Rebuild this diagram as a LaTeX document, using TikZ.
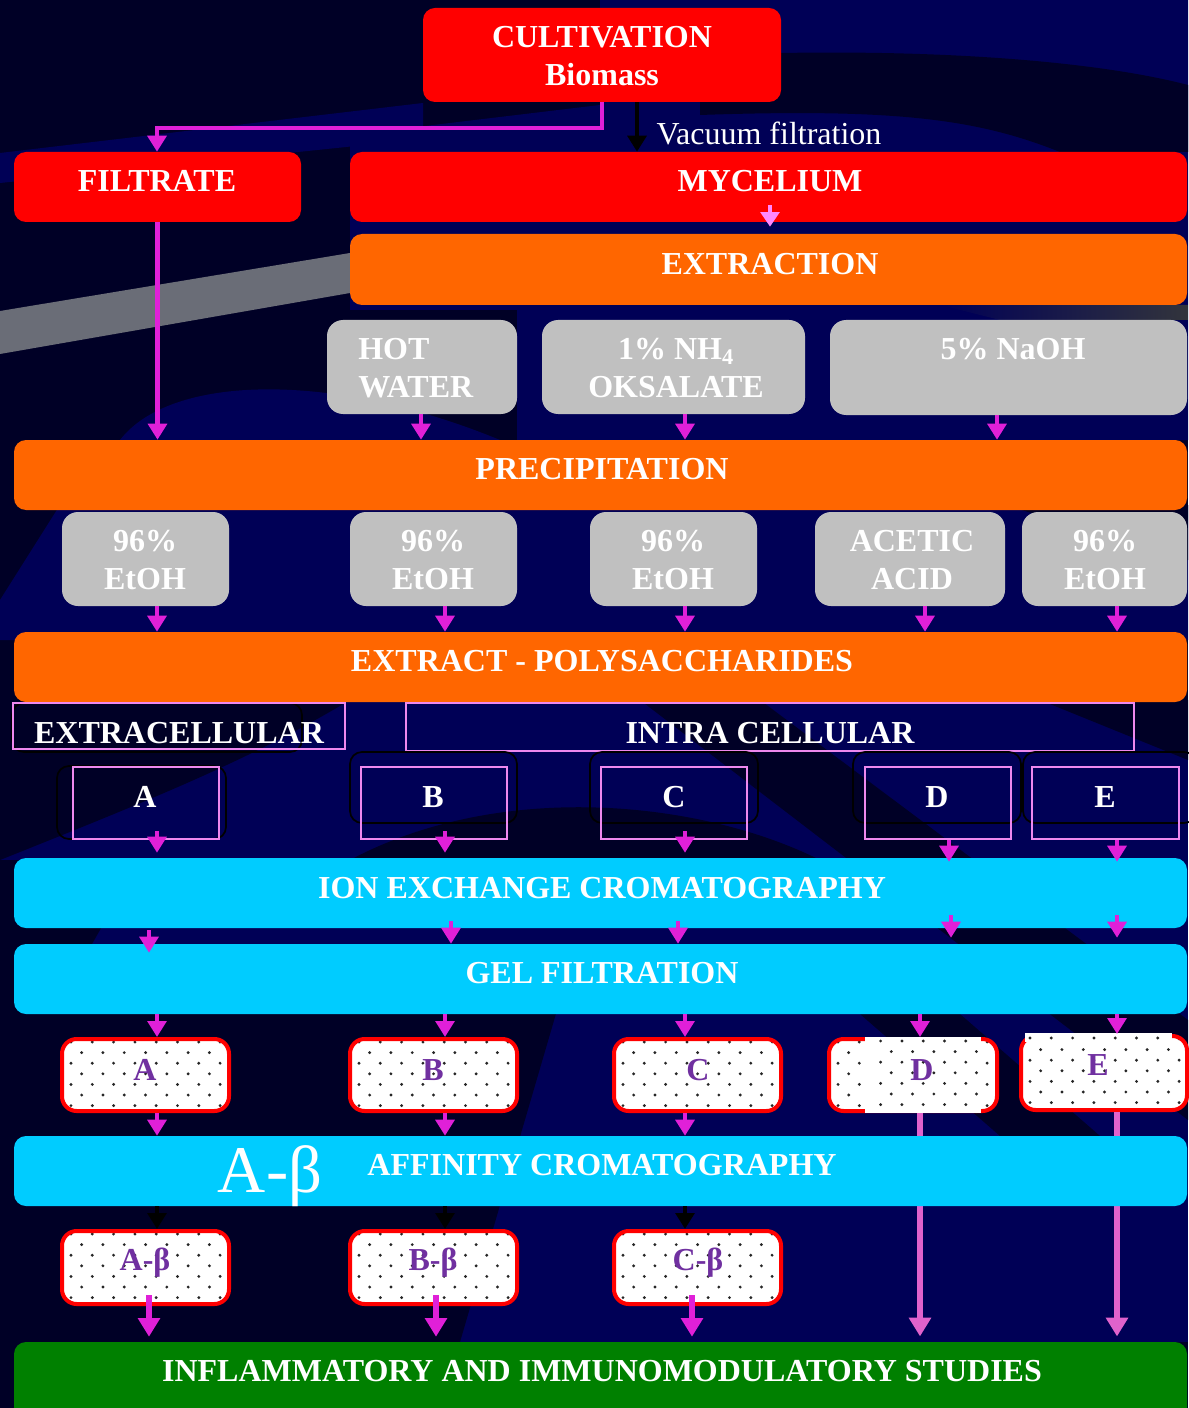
\documentclass[tikz,border=0pt]{standalone}
\usepackage{fontspec}
\setmainfont{Liberation Serif}
\usetikzlibrary{arrows.meta,calc,fit}
\definecolor{bgdark}{HTML}{000026}
\definecolor{bgnavy}{HTML}{000056}
\definecolor{bggray}{HTML}{6A6D77}
\definecolor{bred}{HTML}{FF0000}
\definecolor{borange}{HTML}{FF6600}
\definecolor{bcyan}{HTML}{00CCFF}
\definecolor{bgreen}{HTML}{008000}
\definecolor{bgrey}{HTML}{C0C0C0}
\definecolor{mag}{HTML}{E020D8}
\definecolor{lmag}{HTML}{E062CC}
\definecolor{lpink}{HTML}{FF88FF}
\definecolor{pinkline}{HTML}{EE88EE}
\definecolor{purp}{HTML}{7030A0}
\colorlet{dotc}{black!85}
\tikzset{
 bx/.style={rounded corners=9pt, inner sep=0pt, draw=none},
 redbox/.style={bx, fill=bred},
 orbox/.style={bx, fill=borange},
 cybox/.style={bx, fill=bcyan},
 greybox/.style={bx, fill=bgrey, rounded corners=12pt},
 greenbox/.style={bx, fill=bgreen},
 pinkbox/.style={draw=pinkline, line width=1.6pt, inner sep=0pt},
 shadowbox/.style={draw=black, line width=1.3pt, rounded corners=9pt, inner sep=0pt},
 dotfill/.style 2 args={path picture={
   \foreach \j in {0,...,7}{\foreach \i in {0,...,8}{
     \fill[dotc] ($(path picture bounding box.north west)+({#1+\i*21.3+mod(\j,2)*10.65},{#2+\j*10.6})$) circle[radius=1.2pt];}}}},
 dotbox/.style={draw=bred, line width=3pt, fill=white, rounded corners=11pt, inner sep=0pt, dotfill={9}{3}},
 whitepatch/.style={fill=white, draw=none, inner sep=0pt},
 lbl/.style={text=white, font=\fontsize{24}{29}\selectfont\bfseries, align=center, inner sep=0pt},
 plbl/.style={text=purp, font=\fontsize{24}{29}\selectfont\bfseries, inner sep=0pt},
 marrow/.style={draw=mag, line width=3.5pt, -{Triangle[width=14pt,length=12pt]}},
 karrow/.style={draw=black, line width=3.5pt, -{Triangle[width=14pt,length=12pt]}},
 parrow/.style={draw=lpink, line width=3.5pt, -{Triangle[width=14pt,length=11pt]}},
 barrow/.style={draw=mag, line width=5pt, -{Triangle[width=16pt,length=14pt]}},
 larrow/.style={draw=lmag, line width=4.5pt, -{Triangle[width=16pt,length=14pt]}},
}
\begin{document}
\begin{tikzpicture}[x=0.75pt,y=-0.75pt]
\useasboundingbox (0,0) rectangle (1188,1408);
% ---------- background ----------
\fill[bgdark] (0,0) rectangle (1188,1408);
\fill[bgnavy] (600,0) -- (1188,0) -- (1188,440) -- (517,440) -- (517,310) -- (350,310) -- (350,135) -- (600,105) -- cycle;
\fill[bgdark] (781,53) .. controls (950,50) and (1100,62) .. (1188,85) -- (1188,152) -- (1060,152) .. controls (980,120) and (900,108) .. (700,115) -- (700,100) -- cycle;
\fill[bgnavy] (0,153) -- (423,103) -- (423,139) -- (0,183) -- cycle;
\fill[bggray] (0,311) -- (350,253) -- (350,293) -- (0,354) -- cycle;
\fill[bgnavy] (120,440) .. controls (170,375) and (330,370) .. (500,440) -- cycle;
\shade[left color=bgnavy, right color={rgb,255:red,50;green,52;blue,60}] (940,305) -- (1188,305) -- (1188,320) -- (1000,320) -- cycle;
\fill[bgnavy] (60,505) -- (1188,505) -- (1188,640) -- (0,640) -- (0,600) -- cycle;
\fill[bgdark] (1005,505) -- (1188,505) -- (1188,560) -- cycle;
\fill[bgnavy] (0,700) rectangle (1188,1342);
\fill[bgdark] (0,700) -- (350,700) .. controls (250,760) and (150,800) .. (0,860) -- cycle;
\fill[bgdark] (0,1000) -- (560,1000) -- (460,1342) -- (0,1342) -- cycle;
\fill[bgdark] (0,860) -- (140,860) -- (60,1000) -- (0,1000) -- cycle;
\fill[bgdark] (640,700) -- (760,700) -- (1188,1020) -- (1188,1120) -- cycle;
\fill[bgdark] (860,1014) -- (960,1014) -- (1100,1136) -- (1000,1136) -- cycle;
\fill[bgdark] (1040,700) -- (1188,700) -- (1188,760) -- cycle;
\fill[bgdark] (350,860) .. controls (500,780) and (700,800) .. (820,860) -- cycle;
% ---------- column coordinates ----------
\foreach \c in {149,157,421,436,445,451,637,678,685,692,770,920,925,949,951,997,1117}
  \coordinate (c\c) at (\c,0);
\coordinate (bend) at (157,128);
% ---------- top part ----------
\node[redbox, fit={(423,8)(781,102)}] (cult) {};
\node[lbl] (tcult) at (602,56) {CULTIVATION\\Biomass};
\node[redbox, fit={(14,152)(301,222)}] (filt) {};
\node[lbl] (tfilt) at (157,181) {FILTRATE};
\node[redbox, fit={(350,152)(1187,222)}] (myc) {};
\node[lbl] (tmyc) at (770,181) {MYCELIUM};
\node[text=white, font=\fontsize{24}{29}\selectfont, inner sep=0pt] (tvac) at (769,133) {Vacuum filtration};
\node[orbox, fit={(350,234)(1187,305)}] (ext) {};
\node[lbl] (text) at (770,264) {EXTRACTION};
\node[greybox, fit={(327,320)(517,414)}] (hot) {};
\node[lbl, align=left, anchor=west] (thot) at (358,368) {HOT\\WATER};
\node[greybox, fit={(542,320)(805,414)}] (nh) {};
\node[lbl] (tnh) at (676,368) {1\% NH\textsubscript{4}\\OKSALATE};
\node[greybox, fit={(830,320)(1187,415)}] (naoh) {};
\node[lbl] (tnaoh) at (1013,349) {5\% NaOH};
\node[orbox, fit={(14,440)(1187,510)}] (prec) {};
\node[lbl] (tprec) at (602,469) {PRECIPITATION};
\node[greybox, fit={(62,512)(229,606)}] (g1) {};
\node[lbl] (tg1) at (145,560) {96\%\\EtOH};
\node[greybox, fit={(350,512)(517,606)}] (g2) {};
\node[lbl] (tg2) at (433,560) {96\%\\EtOH};
\node[greybox, fit={(590,512)(757,606)}] (g3) {};
\node[lbl] (tg3) at (673,560) {96\%\\EtOH};
\node[greybox, fit={(815,512)(1005,606)}] (g4) {};
\node[lbl] (tg4) at (912,560) {ACETIC\\ACID};
\node[greybox, fit={(1022,512)(1187,606)}] (g5) {};
\node[lbl] (tg5) at (1105,560) {96\%\\EtOH};
\node[orbox, fit={(14,632)(1187,702)}] (expol) {};
\node[lbl] (texpol) at (602,661) {EXTRACT - POLYSACCHARIDES};
% ---------- extra / intra ----------
\node[shadowbox, fit={(12,703)(302,752)}] (sh0) {};
\node[pinkbox, fit={(13,703)(345,749)}] (extra) {};
\node[lbl] (textra) at (179,733) {EXTRACELLULAR};
\node[pinkbox, fit={(406,703)(1134,751)}] (intra) {};
\node[lbl] (tintra) at (770,733) {INTRA CELLULAR};
\node[shadowbox, fit={(57,766)(226,839)}] (shA) {};
\node[shadowbox, fit={(350,752)(517,823)}] (shB) {};
\node[shadowbox, fit={(590,752)(758,823)}] (shC) {};
\node[shadowbox, fit={(853,752)(1021,823)}] (shD) {};
\node[shadowbox, fit={(1023,752)(1196,823)}] (shE) {};
\node[pinkbox, fit={(73,767)(219,839)}] (pA) {};
\node[lbl] (tpA) at (145,797) {A};
\node[pinkbox, fit={(361,767)(507,839)}] (pB) {};
\node[lbl] (tpB) at (433,797) {B};
\node[pinkbox, fit={(601,767)(747,839)}] (pC) {};
\node[lbl] (tpC) at (674,797) {C};
\node[pinkbox, fit={(865,767)(1011,839)}] (pD) {};
\node[lbl] (tpD) at (937,797) {D};
\node[pinkbox, fit={(1032,767)(1179,839)}] (pE) {};
\node[lbl] (tpE) at (1105,797) {E};
% ---------- chromatography ----------
\node[cybox, fit={(14,858)(1187,928)}] (ion) {};
\node[lbl] (tion) at (602,888) {ION EXCHANGE CROMATOGRAPHY};
\node[cybox, fit={(14,944)(1187,1014)}] (gel) {};
\node[lbl] (tgel) at (602,973) {GEL FILTRATION};
\node[dotbox, fit={(62,1039)(229,1111)}] (dA) {};
\node[dotbox, fit={(350,1039)(517,1111)}] (dB) {};
\node[dotbox, fit={(614,1039)(781,1111)}] (dC) {};
\node[dotbox, fit={(829,1039)(997,1111)}] (dD) {};
\node[dotbox, fit={(1021,1036)(1187,1110)}] (dE) {};
\node[whitepatch, dotfill={15.6}{4}, fit={(865,1037)(981,1113)}] (wD) {};
\node[whitepatch, dotfill={5}{5}, fit={(1025,1033)(1172,1042)}] (wE) {};
\node[plbl] (tdA) at (145,1070) {A};
\node[plbl] (tdB) at (433,1070) {B};
\node[plbl] (tdC) at (698,1070) {C};
\node[plbl] (tdD) at (922,1070) {D};
\node[plbl] (tdE) at (1098,1065) {E};
\node[greenbox, fit={(14,1342)(1187,1420)}] (green) {};
\node[lbl] (tgreen) at (602,1371) {INFLAMMATORY AND IMMUNOMODULATORY STUDIES};
% long D / E arrows behind the affinity bar
\draw[larrow, shorten >=4pt] (dD.south -| c920) -- (c920 |- green.north);
\draw[larrow, shorten >=4pt] (dE.south -| c1117) -- (c1117 |- green.north);
\node[cybox, fit={(14,1136)(1187,1206)}] (aff) {};
\node[text=white, font=\fontsize{50}{60}\selectfont, inner sep=0pt, anchor=base] (tab) at (270,1192) {A-β};
\node[lbl] (taff) at (602,1165) {AFFINITY CROMATOGRAPHY};
\node[dotbox, fit={(62,1231)(229,1304)}] (bA) {};
\node[dotbox, fit={(350,1231)(517,1304)}] (bB) {};
\node[dotbox, fit={(614,1231)(781,1304)}] (bC) {};
\node[plbl] (tbA) at (145,1263) {A-β};
\node[plbl] (tbB) at (433,1263) {B-β};
\node[plbl] (tbC) at (698,1263) {C-β};
% ---------- connectors ----------
\draw[marrow] (cult.south) |- (bend) -- (filt.north -| bend);
\draw[karrow] (cult.south -| c637) -- (myc.north -| c637);
\draw[parrow] ($(myc.south -| c770)+(0,-17)$) -- ($(ext.north -| c770)+(0,-7)$);
\draw[marrow] (filt.south) -- (filt.south |- prec.north);
\draw[marrow] (hot.south -| c421) -- (c421 |- prec.north);
\draw[marrow] (nh.south -| c685) -- (c685 |- prec.north);
\draw[marrow] (naoh.south -| c997) -- (c997 |- prec.north);
\foreach \g/\c in {g1/c157,g2/c445,g3/c685,g4/c925,g5/c1117}
  \draw[marrow] (\g.south -| \c) -- (\c |- expol.north);
\foreach \p/\c in {pA/c157,pB/c445,pC/c685}
  \draw[marrow] ($(\p.south -| \c)+(0,-9)$) -- ($(\c |- ion.north)+(0,-5)$);
\foreach \p/\c in {pD/c949,pE/c1117}
  \draw[marrow] (\p.south -| \c) -- ($(\c |- ion.north)+(0,4)$);
\draw[marrow] ($(ion.south -| c149)+(0,2)$) -- ($(gel.north -| c149)+(0,9)$);
\foreach \c in {c451,c678}
  \draw[marrow] ($(ion.south -| \c)+(0,-7)$) -- (gel.north -| \c);
\foreach \c in {c951,c1117}
  \draw[marrow] ($(ion.south -| \c)+(0,-13)$) -- ($(gel.north -| \c)+(0,-6)$);
\foreach \d/\c in {dA/c157,dB/c445,dC/c685,dD/c920,dE/c1117}
  \draw[marrow] (gel.south -| \c) -- (\c |- \d.north);
\foreach \d/\c in {dA/c157,dB/c445,dC/c685}
  \draw[marrow] (\d.south -| \c) -- (\c |- aff.north);
\foreach \b/\c in {bA/c157,bB/c445,bC/c685}
  \draw[karrow] (aff.south -| \c) -- (\c |- \b.north);
\foreach \b/\c in {bA/c149,bB/c436,bC/c692}
  \draw[barrow] ($(\b.south -| \c)+(0,-11)$) -- ($(\c |- green.north)+(0,-5)$);
\end{tikzpicture}
\end{document}
